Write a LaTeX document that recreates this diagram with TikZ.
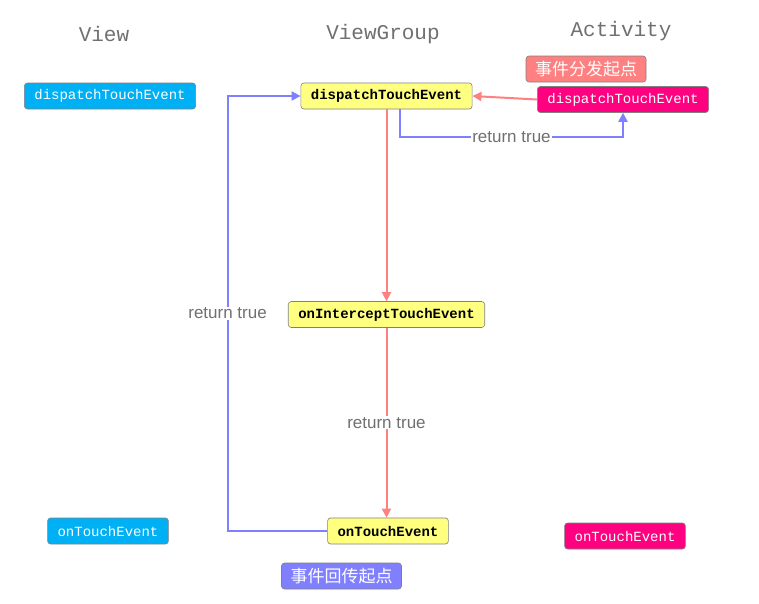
\documentclass[tikz,border=0pt]{standalone}
\usepackage{fontspec}
\setmainfont{Liberation Sans}
\newfontfamily\codefont{Liberation Mono}
\newfontfamily\cjkfont{Noto Sans CJK SC}
\usetikzlibrary{positioning,arrows.meta}

\definecolor{viewblue}{RGB}{0,176,245}
\definecolor{actpink}{RGB}{255,0,128}
\definecolor{groupyellow}{RGB}{255,255,128}
\definecolor{downred}{RGB}{255,128,128}
\definecolor{backblue}{RGB}{128,128,255}
\definecolor{edgegray}{RGB}{128,128,128}
\definecolor{titlegray}{RGB}{112,112,112}

\begin{document}
\begin{tikzpicture}[x=1pt, y=-1pt, on grid,
	method/.style={rectangle, rounded corners=3pt, draw=edgegray, line width=0.6pt,
		minimum height=26pt, inner xsep=10pt, font=\codefont\fontsize{14}{14}\selectfont},
	viewbox/.style={method, fill=viewblue, text=white},
	groupbox/.style={method, fill=groupyellow, text=black, font=\codefont\bfseries\fontsize{14}{14}\selectfont},
	actbox/.style={method, fill=actpink, text=white},
	tagbox/.style={rectangle, rounded corners=3pt, draw=edgegray, line width=0.6pt,
		minimum width=120pt, minimum height=26pt, text=white, font=\cjkfont\fontsize{17}{17}\selectfont},
	title/.style={text=titlegray, font=\codefont\fontsize{21}{21}\selectfont},
	lbl/.style={fill=white, inner sep=1pt, text=titlegray, font=\fontsize{17}{17}\selectfont},
	downline/.style={draw=downred, line width=2pt, -{Triangle[length=9pt,width=9pt]}},
	backline/.style={draw=backblue, line width=2pt, -{Triangle[length=9pt,width=9pt]}}
]
	\useasboundingbox (0,0) rectangle (759,603);

	% Methods of the ViewGroup
	\node[groupbox] (vgd) at (386.5,96) {dispatchTouchEvent};
	\node[groupbox, below=218.5pt of vgd] (vgi) {onInterceptTouchEvent};
	\node[groupbox, below right=216.5pt and 1.5pt of vgi] (vgt) {onTouchEvent};

	% Methods of the View and the Activity
	\node[viewbox, left=276.5pt of vgd] (vwd) {dispatchTouchEvent};
	\node[viewbox, left=280pt of vgt] (vwt) {onTouchEvent};
	\node[actbox, below right=3.5pt and 236.5pt of vgd] (acd) {dispatchTouchEvent};
	\node[actbox, below right=5pt and 237pt of vgt] (act) {onTouchEvent};

	% Tags
	\node[tagbox, fill=downred, above left=30.5pt and 37pt of acd] (tagdown) {事件分发起点};
	\node[tagbox, fill=backblue, below left=45pt and 46.5pt of vgt] (tagback) {事件回传起点};

	% Titles
	\node[title, above left=62pt and 6pt of vwd] (tview) {View};
	\node[title, above left=62pt and 3.5pt of vgd] (tgroup) {ViewGroup};
	\node[title, above left=68.5pt and 2pt of acd] (tact) {Activity};

	% Dispatch down
	\draw[downline] (acd.west) -- (vgd.east);
	\draw[downline] (vgd) -- (vgi);
	\draw[downline] (vgi) -- node[lbl] {return true} (vgi.south |- vgt.north);

	% Return paths
	\draw[backline] ([xshift=13.5pt]vgd.south) |- node[lbl, pos=0.75] {return true}
		([yshift=-24pt]acd.south) -- (acd.south);
	\draw[backline] (vgt.west) -| node[lbl, pos=0.75] {return true}
		([xshift=-73pt]vgd.west) -- (vgd.west);

\end{tikzpicture}
\end{document}
